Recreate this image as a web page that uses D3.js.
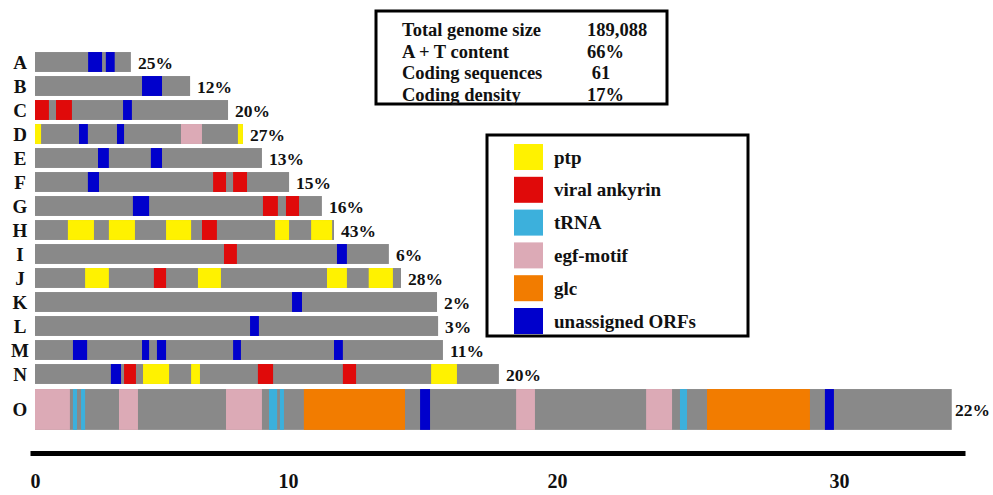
<!DOCTYPE html>
<html>
<head>
<meta charset="utf-8">
<script src="https://cdn.jsdelivr.net/npm/d3@7"></script>
<style>
  body { margin: 0; background: #fff; }
  svg text { font-family: "Liberation Serif", "Times New Roman", serif; font-weight: bold; fill: #111; }
</style>
</head>
<body>
<div id="chart"></div>
<script>
// === data ===
const rows = ["A","B","C","D","E","F","G","H","I","J","K","L","M","N","O"];
const rowLengths = [3.79, 6.13, 7.63, 8.22, 8.97, 10.04, 11.26, 11.71, 13.75, 14.2, 15.54, 15.58, 15.76, 17.84, 34.0];
const codingPct = ["25%","12%","20%","27%","13%","15%","16%","43%","6%","28%","2%","3%","11%","20%","22%"];

const featureTypes = ["ptp", "viral ankyrin", "tRNA", "egf-motif", "glc", "unassigned ORFs"];
const featureColors = ["#fff200", "#e00a0a", "#3cb0dc", "#dcaab6", "#f27c00", "#0000cc"];

// [row, start, end, type]
const features = [
  ["A", 2.1, 2.65, "unassigned ORFs"], ["A", 2.8, 3.15, "unassigned ORFs"],
  ["B", 4.23, 5.02, "unassigned ORFs"],
  ["C", 0, 0.55, "viral ankyrin"], ["C", 0.83, 1.46, "viral ankyrin"], ["C", 3.48, 3.83, "unassigned ORFs"],
  ["D", 0, 0.24, "ptp"], ["D", 1.74, 2.09, "unassigned ORFs"], ["D", 3.24, 3.52, "unassigned ORFs"],
  ["D", 5.77, 6.6, "egf-motif"], ["D", 8.02, 8.22, "ptp"],
  ["E", 2.49, 2.92, "unassigned ORFs"], ["E", 4.58, 5.02, "unassigned ORFs"],
  ["F", 2.09, 2.53, "unassigned ORFs"], ["F", 7.04, 7.55, "viral ankyrin"], ["F", 7.83, 8.38, "viral ankyrin"],
  ["G", 3.87, 4.51, "unassigned ORFs"], ["G", 9.01, 9.6, "viral ankyrin"], ["G", 9.92, 10.41, "viral ankyrin"],
  ["H", 1.3, 2.33, "ptp"], ["H", 2.92, 3.95, "ptp"], ["H", 5.18, 6.17, "ptp"],
  ["H", 6.6, 7.19, "viral ankyrin"], ["H", 9.49, 10.04, "ptp"], ["H", 10.86, 11.64, "ptp"],
  ["I", 7.47, 7.98, "viral ankyrin"], ["I", 11.82, 12.19, "unassigned ORFs"],
  ["J", 1.98, 2.92, "ptp"], ["J", 4.7, 5.18, "viral ankyrin"], ["J", 6.44, 7.35, "ptp"],
  ["J", 11.45, 12.19, "ptp"], ["J", 13.0, 13.9, "ptp"],
  ["K", 10.15, 10.52, "unassigned ORFs"],
  ["L", 8.5, 8.85, "unassigned ORFs"],
  ["M", 1.5, 2.06, "unassigned ORFs"], ["M", 4.23, 4.51, "unassigned ORFs"], ["M", 4.82, 5.18, "unassigned ORFs"],
  ["M", 7.83, 8.14, "unassigned ORFs"], ["M", 11.71, 12.04, "unassigned ORFs"],
  ["N", 3.0, 3.4, "unassigned ORFs"], ["N", 3.52, 3.99, "viral ankyrin"], ["N", 4.27, 5.3, "ptp"],
  ["N", 6.17, 6.52, "ptp"], ["N", 8.81, 9.41, "viral ankyrin"], ["N", 12.04, 12.53, "viral ankyrin"],
  ["N", 15.32, 16.28, "ptp"],
  ["O", 0, 1.38, "egf-motif"], ["O", 1.5, 1.66, "tRNA"], ["O", 1.82, 1.98, "tRNA"],
  ["O", 3.32, 4.07, "egf-motif"], ["O", 7.55, 8.97, "egf-motif"], ["O", 9.25, 9.57, "tRNA"],
  ["O", 9.68, 9.84, "tRNA"], ["O", 10.59, 14.35, "glc"], ["O", 14.91, 15.28, "unassigned ORFs"],
  ["O", 18.48, 19.18, "egf-motif"], ["O", 23.16, 24.08, "egf-motif"], ["O", 24.36, 24.61, "tRNA"],
  ["O", 25.32, 28.97, "glc"], ["O", 29.5, 29.82, "unassigned ORFs"]
];

const statLabels = ["Total genome size", "A + T content", "Coding sequences", "Coding density"];
const statValues = ["189,088", "66%", " 61", "17%"];

const tickValues = [0, 10, 20, 30];

// === setup ===
const width = 993, height = 495;
const svg = d3.select("#chart").append("svg")
    .attr("width", width).attr("height", height);

// the printed scale is slightly uneven, so calibrate piecewise
const x = d3.scaleLinear()
    .domain([-0.2, 0, 10, 20, 30, 34.47])
    .range([30, 35, 288, 557, 839, 965]);

const y = d3.scaleBand()
    .domain(rows.slice(0, 14))
    .range([50, 386])
    .paddingInner(0.17)
    .paddingOuter(0.085);

const color = d3.scaleOrdinal().domain(featureTypes).range(featureColors);

// O row is twice as tall, just below N
const rowTop = r => r === "O" ? y("N") + y.step() + 1 : y(r);
const rowH = r => r === "O" ? y.bandwidth() * 2 + 1 : y.bandwidth();

const rowData = rows.map((r, i) => ({row: r, len: rowLengths[i], pct: codingPct[i]}));

// grey backbone bars
svg.append("g").selectAll("rect")
    .data(rowData)
    .join("rect")
    .attr("x", x(0))
    .attr("y", d => rowTop(d.row))
    .attr("width", d => x(d.len) - x(0))
    .attr("height", d => rowH(d.row))
    .attr("fill", "#898989");

// coloured features
svg.append("g").selectAll("rect")
    .data(features)
    .join("rect")
    .attr("x", d => x(d[1]))
    .attr("y", d => rowTop(d[0]))
    .attr("width", d => x(d[2]) - x(d[1]))
    .attr("height", d => rowH(d[0]))
    .attr("fill", d => color(d[3]));

// row letters
svg.append("g").selectAll("text")
    .data(rowData)
    .join("text")
    .attr("x", 20)
    .attr("y", d => rowTop(d.row) + rowH(d.row) / 2 + 6.5)
    .attr("text-anchor", "middle")
    .style("font-size", "19px")
    .text(d => d.row);

// coding density labels (kept inside the right edge)
svg.append("g").selectAll("text")
    .data(rowData)
    .join("text")
    .attr("x", d => Math.min(x(d.len) + 7, width - 38))
    .attr("y", d => rowTop(d.row) + rowH(d.row) / 2 + 7)
    .style("font-size", "17.5px")
    .text(d => d.pct);

// scale bar
const axis = svg.append("g")
    .attr("transform", "translate(0,453)")
    .call(d3.axisBottom(x).tickValues(tickValues).tickSize(0).tickPadding(21).tickFormat(d3.format("d")));
axis.select(".domain").attr("stroke", "#000").attr("stroke-width", 5);
axis.selectAll("text")
    .style("font-size", "20px")
    .style("font-family", "'Liberation Serif', serif")
    .style("font-weight", "bold")
    .attr("fill", "#111");

// genome stats box
const info = svg.append("g");
info.append("rect")
    .attr("x", 376).attr("y", 11).attr("width", 291).attr("height", 93)
    .attr("fill", "#fff").attr("stroke", "#000").attr("stroke-width", 3);
info.selectAll("text.lab")
    .data(statLabels)
    .join("text")
    .attr("class", "lab")
    .attr("x", 402)
    .attr("y", (d, i) => 36 + i * 21.5)
    .style("font-size", "18.5px")
    .text(d => d);
info.selectAll("text.val")
    .data(statValues)
    .join("text")
    .attr("class", "val")
    .attr("x", 587)
    .attr("y", (d, i) => 36 + i * 21.5)
    .attr("xml:space", "preserve")
    .style("white-space", "pre")
    .style("font-size", "18.5px")
    .text(d => d);

// legend
const legend = svg.append("g");
legend.append("rect")
    .attr("x", 487).attr("y", 135).attr("width", 261).attr("height", 201)
    .attr("fill", "#fff").attr("stroke", "#000").attr("stroke-width", 3);
const item = legend.selectAll("g.item")
    .data(featureTypes)
    .join("g")
    .attr("class", "item")
    .attr("transform", (d, i) => `translate(514,${144 + i * 32.8})`);
item.append("rect")
    .attr("width", 29).attr("height", 26)
    .attr("fill", d => color(d));
item.append("text")
    .attr("x", 40).attr("y", 19.5)
    .style("font-size", "19px")
    .text(d => d);
</script>
</body>
</html>
